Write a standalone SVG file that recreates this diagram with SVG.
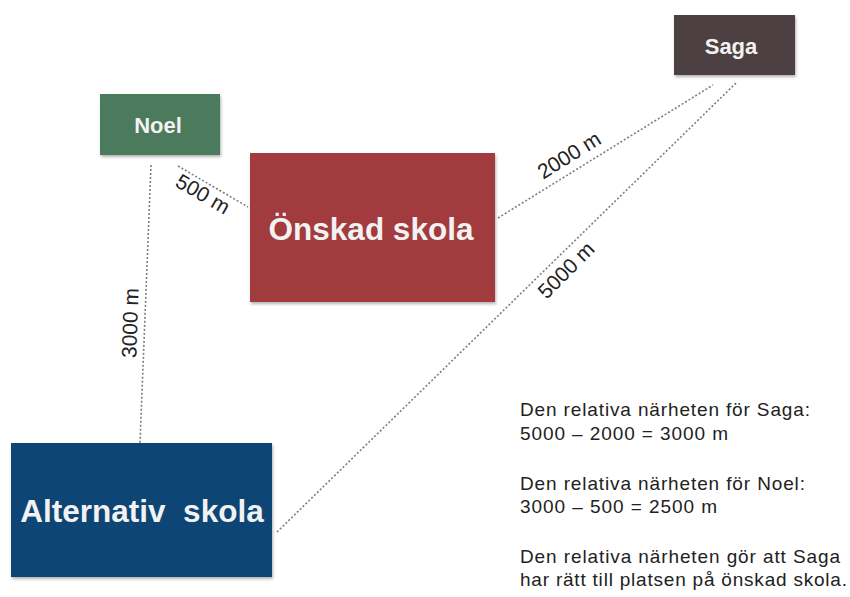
<svg xmlns="http://www.w3.org/2000/svg" width="850" height="597" viewBox="0 0 850 597">
<style>
.box-label{font-family:"Liberation Sans",Arial,sans-serif;font-weight:bold;fill:#f2f2f2;text-anchor:middle}
.conn{stroke:#7e7e7e;stroke-width:1.6;stroke-dasharray:2 2;fill:none}
.dist{font-family:"Liberation Sans",Arial,sans-serif;font-size:21px;fill:#222;text-anchor:middle}
.note{font-family:"Liberation Sans",Arial,sans-serif;font-size:19px;fill:#222}
</style>
<defs>
<filter id="sh" x="-10%" y="-10%" width="125%" height="130%">
<feDropShadow dx="1" dy="2" stdDeviation="1.5" flood-color="#000" flood-opacity="0.3"/>
</filter>
</defs>
<rect width="850" height="597" fill="#ffffff"/>
<g id="connectors">
<line class="conn" x1="178" y1="166" x2="248" y2="207"/>
<line class="conn" x1="151" y1="165" x2="140" y2="443"/>
<line class="conn" x1="498" y1="218" x2="713" y2="85"/>
<line class="conn" x1="277" y1="532" x2="736" y2="83"/>
<text class="dist" transform="translate(203,194) rotate(30)" dy="0.35em">500 m</text>
<text class="dist" transform="translate(130,323) rotate(-88)" dy="0.35em">3000 m</text>
<text class="dist" transform="translate(569,155) rotate(-32)" dy="0.35em">2000 m</text>
<text class="dist" transform="translate(566,270) rotate(-45)" dy="0.35em">5000 m</text>
</g>
<g id="noel">
<rect x="100" y="94" width="120" height="61" fill="#4c7a5b" filter="url(#sh)"/>
<text class="box-label" x="158" y="133" font-size="22">Noel</text>
</g>
<g id="onskad">
<rect x="250" y="153" width="245" height="149" fill="#a23b3c" filter="url(#sh)"/>
<text class="box-label" x="371" y="240" font-size="31.5">Önskad skola</text>
</g>
<g id="saga">
<rect x="674" y="15" width="121" height="60" fill="#4e4143" filter="url(#sh)"/>
<text class="box-label" x="731" y="54" font-size="22">Saga</text>
</g>
<g id="alternativ">
<rect x="11" y="443" width="261" height="134" fill="#0b4475" filter="url(#sh)"/>
<text class="box-label" x="142" y="522" font-size="31.5" xml:space="preserve">Alternativ  skola</text>
</g>
<g id="notes">
<text class="note" x="520" y="416" textLength="290" lengthAdjust="spacing">Den relativa närheten för Saga:</text>
<text class="note" x="520" y="440" textLength="208" lengthAdjust="spacing">5000 – 2000 = 3000 m</text>
<text class="note" x="520" y="490" textLength="285" lengthAdjust="spacing">Den relativa närheten för Noel:</text>
<text class="note" x="520" y="513" textLength="197" lengthAdjust="spacing">3000 – 500 = 2500 m</text>
<text class="note" x="520" y="563" textLength="320" lengthAdjust="spacing">Den relativa närheten gör att Saga</text>
<text class="note" x="520" y="586" textLength="327" lengthAdjust="spacing">har rätt till platsen på önskad skola.</text>
</g>
</svg>
